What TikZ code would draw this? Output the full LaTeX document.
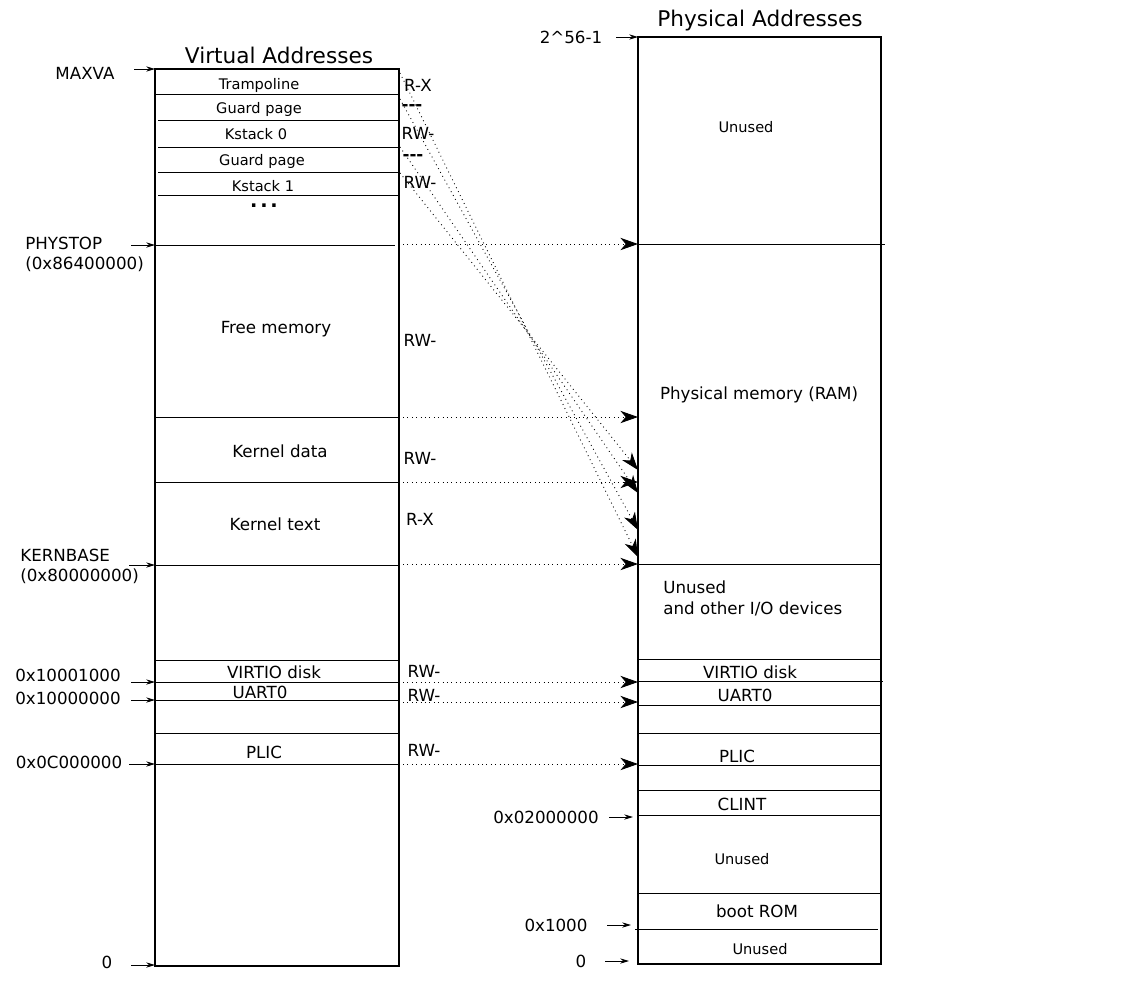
\documentclass[tikz,border=0pt]{standalone}
\usepackage{fontspec}
\setmainfont{DejaVu Sans}
\usetikzlibrary{arrows.meta}

\tikzset{
  region/.style={draw, line width=1.1pt},
  divider/.style={line width=0.45pt},
  regiontext/.style={font=\fontsize{9.5}{12}\selectfont, inner sep=0pt},
  smalltext/.style={font=\fontsize{8.3}{10}\selectfont, inner sep=0pt},
  headtext/.style={font=\fontsize{12.3}{14}\selectfont, inner sep=0pt},
  pointer/.style={-{Stealth[length=5pt,width=3pt]}, line width=0.5pt},
  mapping/.style={dotted, line width=0.5pt,
    -{Stealth[length=10pt,width=7pt,inset=3pt]}},
}

\begin{document}
\begin{tikzpicture}[x=0.02cm, y=-0.02cm]
  \useasboundingbox (0,0) rectangle (1132,985);

  % virtual side
  \node[headtext] (vtitle) at (279,55) {Virtual Addresses};
  \draw[region] (155,69) rectangle (399,966);
  \foreach \y/\l in {94/155,120/158,147/158,172/158,195/158,417/155,482/155,
                     565/155,660/155,682/155,700/155,733/155,764/155}
    \draw[divider] (\l,\y) -- (399,\y);
  \draw[divider] (155,245) -- (395,245);

  \node[smalltext] (tramp) at (259,85) {Trampoline};
  \node[smalltext] (guard0) at (259,109) {Guard page};
  \node[smalltext] (kstack0) at (256,134) {Kstack 0};
  \node[smalltext] (guard1) at (262,161) {Guard page};
  \node[smalltext, text depth=0pt] (kstack1) at (263,186) {Kstack 1};
  \node[regiontext, text height=2pt, text depth=0pt, font=\fontsize{11}{12}\selectfont]
    (vdots) at (264,206) {\textbf{.\hspace{1.6pt}.\hspace{1.6pt}.}};
  \node[regiontext] (free) at (276,329) {Free memory};
  \node[regiontext] (kdata) at (280,451) {Kernel data};
  \node[regiontext] (ktext) at (275,524) {Kernel text};
  \node[regiontext] (vvirtio) at (274,672) {VIRTIO disk};
  \node[regiontext] (vuart) at (260,692) {UART0};
  \node[regiontext] (vplic) at (264,752) {PLIC};

  % permissions
  \node[regiontext] (ptramp) at (418,85) {R-X};
  \node[regiontext] (pguard0) at (412,107) {\textbf{-{}-{}-}};
  \node[regiontext] (pk0) at (418,133) {RW-};
  \node[regiontext] (pguard1) at (413,157) {\textbf{-{}-{}-}};
  \node[regiontext] (pk1) at (420,182) {RW-};
  \node[regiontext] (pfree) at (420,340) {RW-};
  \node[regiontext] (pdata) at (420,458) {RW-};
  \node[regiontext] (ptext) at (420,519) {R-X};
  \node[regiontext] (pvirtio) at (424,671) {RW-};
  \node[regiontext] (puart) at (424,695) {RW-};
  \node[regiontext] (pplic) at (424,750) {RW-};

  % virtual addresses
  \node[regiontext] (maxva) at (85,73) {MAXVA};
  \node[regiontext, anchor=west] (phystop) at (25,243) {PHYSTOP};
  \node[regiontext, anchor=west] (phystopv) at (25,264) {(0x86400000)};
  \node[regiontext, anchor=west] (kernbase) at (20,555) {KERNBASE};
  \node[regiontext, anchor=west] (kernbasev) at (20,576) {(0x80000000)};
  \node[regiontext] (avirtio) at (68,675) {0x10001000};
  \node[regiontext] (auart) at (68,698) {0x10000000};
  \node[regiontext] (aplic) at (69,762) {0x0C000000};
  \node[regiontext] (vzero) at (107,962) {0};

  \foreach \n/\a/\b/\y in {maxva/134/155/69, phystop/131/155/245,
      kernbase/129/155/565, virtio/131/155/682, uart/131/155/700,
      plic/129/155/764, vzero/131/155/965,
      top/616/638/37, clint/609/633/817, rom/607/631/925, pzero/605/629/961}{
    \coordinate (\n-from) at (\a,\y);
    \coordinate (\n-to) at (\b,\y);
    \draw[pointer] (\n-from) -- (\n-to);
  }

  % physical side
  \node[headtext] (ptitle) at (760,21) {Physical Addresses};
  \draw[region] (638,37) rectangle (881,964);
  \foreach \y/\r in {244/885,564/881,659/881,681/883,705/881,733/881,
                     765/881,790/881,815/881,893/881}
    \draw[divider] (638,\y) -- (\r,\y);
  \draw[divider] (635,929) -- (878,929);

  \node[smalltext] (unused1) at (746,127) {Unused};
  \node[regiontext] (ram) at (759,395) {Physical memory (RAM)};
  \node[regiontext, anchor=west, align=left] (io) at (663,598)
    {Unused\\and other I/O devices};
  \node[regiontext] (pvirtiobox) at (750,672) {VIRTIO disk};
  \node[regiontext] (puartbox) at (745,695) {UART0};
  \node[regiontext] (pplicbox) at (737,756) {PLIC};
  \node[regiontext] (pclint) at (742,804) {CLINT};
  \node[smalltext] (unused2) at (742,859) {Unused};
  \node[regiontext] (bootrom) at (757,911) {boot ROM};
  \node[smalltext] (unused3) at (760,949) {Unused};

  \node[regiontext] (atop) at (571,37) {2\textasciicircum 56-1};
  \node[regiontext] (aclint) at (546,817) {0x02000000};
  \node[regiontext] (arom) at (556,925) {0x1000};
  \node[regiontext] (pzero) at (581,961) {0};

  % mappings
  \foreach \n/\y in {mphystop/244, mfree/417, mdata/482, mbase/564,
                     mvirtio/682, muart/702, mplic/764}{
    \coordinate (\n-v) at (403,\y);
    \coordinate (\n-p) at (638,\y);
    \draw[mapping] (\n-v) -- (\n-p);
  }
  \foreach \n/\a/\b in {dtramp/73/557, dk0a/99/530, dk0b/147/493, dk1/173/470}{
    \coordinate (\n-v) at (400,\a);
    \coordinate (\n-p) at (638,\b);
    \draw[mapping] (\n-v) -- (\n-p);
  }
\end{tikzpicture}
\end{document}
